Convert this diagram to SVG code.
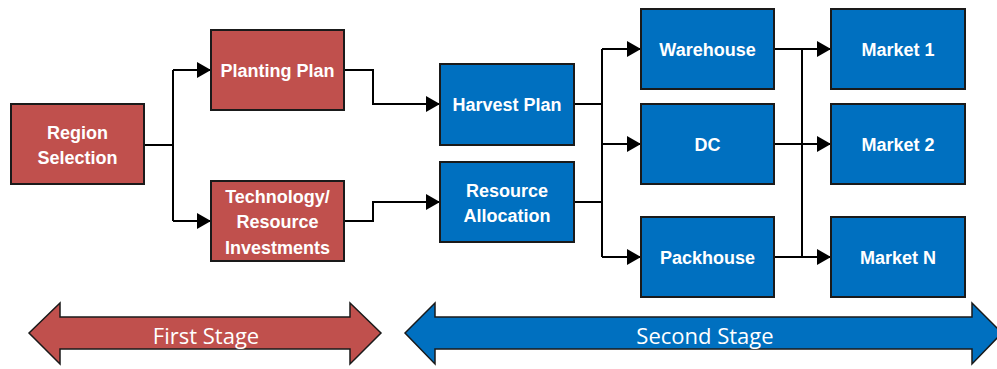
<svg xmlns="http://www.w3.org/2000/svg" width="997" height="369" viewBox="0 0 997 369">
  <defs>
    <marker id="arrow" markerWidth="14" markerHeight="16" refX="14" refY="8" orient="auto" markerUnits="userSpaceOnUse">
      <path d="M0,0 L14,8 L0,16 Z" fill="#000"/>
    </marker>
    <style>
      .red { fill: #C0504D; stroke: #1a1a1a; stroke-width: 2; }
      .blue { fill: #0070C0; stroke: #1a1a1a; stroke-width: 2; }
      .lbl { font-family: "Liberation Sans", Arial, sans-serif; font-size: 18px; font-weight: bold; fill: #fff; text-anchor: middle; }
      .stage { font-family: "Open Sans", "Liberation Sans", sans-serif; font-size: 22px; fill: #fff; text-anchor: middle; }
      .wire { fill: none; stroke: #000; stroke-width: 2; }
      .band { stroke: #1a1a1a; stroke-width: 1.5; stroke-linejoin: miter; }
    </style>
  </defs>

  <rect width="997" height="369" fill="#fff"/>

  <!-- connectors -->
  <g id="connectors">
    <path class="wire" d="M144,145 H173"/>
    <path class="wire" d="M173,70 V221"/>
    <path class="wire" d="M173,70 H211" marker-end="url(#arrow)"/>
    <path class="wire" d="M173,221 H211" marker-end="url(#arrow)"/>

    <path class="wire" d="M344,70 H373 V104 H440" marker-end="url(#arrow)"/>
    <path class="wire" d="M344,221 H373 V202 H440" marker-end="url(#arrow)"/>

    <path class="wire" d="M574,104 H602"/>
    <path class="wire" d="M574,202 H602"/>
    <path class="wire" d="M602,49 V257"/>
    <path class="wire" d="M602,49 H641" marker-end="url(#arrow)"/>
    <path class="wire" d="M602,144 H641" marker-end="url(#arrow)"/>
    <path class="wire" d="M602,257 H641" marker-end="url(#arrow)"/>

    <path class="wire" d="M802,49 V257"/>
    <path class="wire" d="M774,49 H831" marker-end="url(#arrow)"/>
    <path class="wire" d="M774,144 H831" marker-end="url(#arrow)"/>
    <path class="wire" d="M774,257 H831" marker-end="url(#arrow)"/>
  </g>

  <!-- first stage nodes -->
  <g id="region-selection">
    <rect class="red" x="11" y="104" width="133" height="80"/>
    <text class="lbl" x="77.5" y="139">Region</text>
    <text class="lbl" x="77.5" y="164">Selection</text>
  </g>
  <g id="planting-plan">
    <rect class="red" x="211" y="30" width="133" height="80"/>
    <text class="lbl" x="277.5" y="77">Planting Plan</text>
  </g>
  <g id="technology-investments">
    <rect class="red" x="211" y="181" width="133" height="80"/>
    <text class="lbl" x="277.5" y="203">Technology/</text>
    <text class="lbl" x="277.5" y="228">Resource</text>
    <text class="lbl" x="277.5" y="254">Investments</text>
  </g>

  <!-- second stage nodes -->
  <g id="harvest-plan">
    <rect class="blue" x="440" y="64" width="134" height="81"/>
    <text class="lbl" x="507" y="111">Harvest Plan</text>
  </g>
  <g id="resource-allocation">
    <rect class="blue" x="440" y="162" width="134" height="80"/>
    <text class="lbl" x="507" y="197">Resource</text>
    <text class="lbl" x="507" y="222">Allocation</text>
  </g>
  <g id="warehouse">
    <rect class="blue" x="641" y="9" width="133" height="80"/>
    <text class="lbl" x="707.5" y="56">Warehouse</text>
  </g>
  <g id="dc">
    <rect class="blue" x="641" y="104" width="133" height="80"/>
    <text class="lbl" x="707.5" y="151">DC</text>
  </g>
  <g id="packhouse">
    <rect class="blue" x="641" y="217" width="133" height="80"/>
    <text class="lbl" x="707.5" y="264">Packhouse</text>
  </g>
  <g id="market-1">
    <rect class="blue" x="831" y="9" width="134" height="80"/>
    <text class="lbl" x="898" y="56">Market 1</text>
  </g>
  <g id="market-2">
    <rect class="blue" x="831" y="104" width="134" height="80"/>
    <text class="lbl" x="898" y="151">Market 2</text>
  </g>
  <g id="market-n">
    <rect class="blue" x="831" y="217" width="134" height="80"/>
    <text class="lbl" x="898" y="264">Market N</text>
  </g>

  <!-- stage bands -->
  <g id="first-stage">
    <path class="band" fill="#C0504D" d="M29,333 L60,303 V317 H350 V303 L381,333 L350,364 V349 H60 V364 Z"/>
    <text class="stage" x="206" y="344">First Stage</text>
  </g>
  <g id="second-stage">
    <path class="band" fill="#0070C0" d="M405,333 L435,303 V317 H972 V303 L1002,333 L972,364 V349 H435 V364 Z"/>
    <text class="stage" x="705" y="344">Second Stage</text>
  </g>
</svg>
